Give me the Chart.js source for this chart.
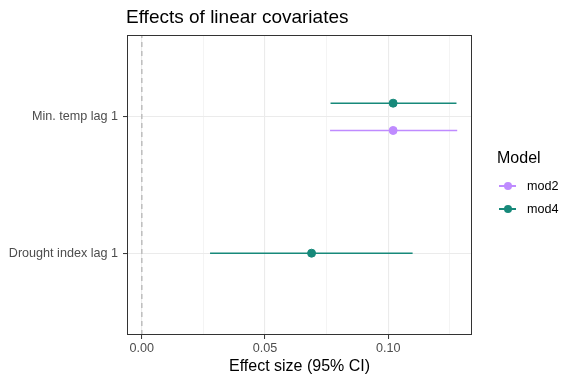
<!DOCTYPE html>
<html>
<head>
<meta charset="utf-8">
<script src="https://cdn.jsdelivr.net/npm/chart.js@4"></script>
<style>
  body { margin: 0; background: #fff; font-family: "Liberation Sans", Arial, sans-serif; }
  #wrap { position: relative; width: 576px; height: 384px; }
  #title { position: absolute; left: 126px; top: 6px; font-size: 19px; line-height: 22px; color: #000; }
  #legend { position: absolute; left: 497px; top: 148px; }
  #legend .head { font-size: 16px; line-height: 20px; color: #000; margin-bottom: 10px; }
  #legend .item { position: relative; height: 23px; font-size: 12.6px; line-height: 16px; color: #000; }
  #legend .key-line { position: absolute; left: 2px; top: 7px; width: 17px; height: 1.5px; }
  #legend .key-dot { position: absolute; left: 6.5px; top: 3.7px; width: 8px; height: 8px; border-radius: 50%; }
  #legend .lab { position: absolute; left: 30px; top: 0; }
</style>
</head>
<body>
<div id="wrap">
  <canvas id="chart" width="576" height="384"></canvas>
  <div id="title">Effects of linear covariates</div>
  <div id="legend"></div>
</div>
<script>
// Data
const terms = ['Drought index lag 1', 'Min. temp lag 1'];
const models = ['mod2', 'mod4'];
const modelColors = ['#BF8BFF', '#17897A'];

const mod2Est = [null, 0.102];
const mod2Low = [null, 0.0764];
const mod2High = [null, 0.128];

const mod4Est = [0.0689, 0.102];
const mod4Low = [0.0277, 0.0766];
const mod4High = [0.1099, 0.1277];

const xMajorTicks = [0, 0.05, 0.10];
const xMinorTicks = [0.025, 0.075, 0.125];
const xTickLabels = ['0.00', '0.05', '0.10'];

const estimates = [mod2Est, mod4Est];
const lows = [mod2Low, mod4Low];
const highs = [mod2High, mod4High];

// dodge models around each term (ggplot position_dodge)
const dodge = 0.2;
function yPos(termIdx, modelIdx) {
  const present = models.map((m, i) => i).filter(i => estimates[i][termIdx] != null);
  if (present.length < 2) return termIdx + 1;
  const k = present.indexOf(modelIdx);
  return termIdx + 1 - dodge / 2 + k * dodge / (present.length - 1);
}

const datasets = [];

// zero reference line
datasets.push({
  data: [{ x: 0, y: 0.4 }, { x: 0, y: 2.6 }],
  showLine: true,
  borderColor: '#BDBDBD',
  borderWidth: 1.5,
  borderDash: [5, 4],
  pointRadius: 0
});

// whiskers
models.forEach((m, mi) => {
  terms.forEach((t, ti) => {
    if (estimates[mi][ti] == null) return;
    const y = yPos(ti, mi);
    datasets.push({
      data: [{ x: lows[mi][ti], y: y }, { x: highs[mi][ti], y: y }],
      showLine: true,
      borderColor: modelColors[mi],
      borderWidth: 1.5,
      pointRadius: 0
    });
  });
});

// points
models.forEach((m, mi) => {
  const pts = [];
  terms.forEach((t, ti) => {
    if (estimates[mi][ti] == null) return;
    pts.push({ x: estimates[mi][ti], y: yPos(ti, mi) });
  });
  datasets.push({
    label: m,
    data: pts,
    backgroundColor: modelColors[mi],
    borderColor: modelColors[mi],
    pointRadius: 4,
    pointHoverRadius: 4
  });
});

// Panel border like theme_bw
const panelBorder = {
  id: 'panelBorder',
  afterDraw(chart) {
    const { ctx, chartArea: a } = chart;
    ctx.save();
    ctx.strokeStyle = '#333333';
    ctx.lineWidth = 1;
    ctx.strokeRect(a.left + 0.5, a.top + 0.5, a.right - a.left - 1, a.bottom - a.top - 1);
    ctx.restore();
  }
};

Chart.defaults.font.family = '"Liberation Sans", Arial, sans-serif';

new Chart(document.getElementById('chart'), {
  type: 'scatter',
  data: { datasets: datasets },
  options: {
    responsive: false,
    animation: false,
    layout: { padding: { top: 35, right: 104, bottom: 8, left: 0 } },
    plugins: {
      legend: { display: false },
      tooltip: { enabled: false }
    },
    scales: {
      x: {
        min: -0.006,
        max: 0.134,
        afterBuildTicks: scale => {
          scale.ticks = xMajorTicks.concat(xMinorTicks).sort((a, b) => a - b).map(v => ({ value: v }));
        },
        afterFit: scale => { scale.height = 41; },
        ticks: {
          autoSkip: false,
          maxRotation: 0,
          padding: 2,
          color: '#4D4D4D',
          font: { size: 12.6 },
          callback: value => {
            const i = xMajorTicks.findIndex(v => Math.abs(v - value) < 1e-9);
            return i >= 0 ? xTickLabels[i] : '';
          }
        },
        grid: {
          color: '#EBEBEB',
          lineWidth: ctx => xMajorTicks.some(v => Math.abs(v - ctx.tick.value) < 1e-9) ? 1.1 : 0.55,
          tickLength: 4,
          tickColor: ctx => xMajorTicks.some(v => Math.abs(v - ctx.tick.value) < 1e-9) ? '#333333' : 'rgba(0,0,0,0)',
          tickWidth: 1
        },
        border: { display: false },
        title: {
          display: true,
          text: 'Effect size (95% CI)',
          color: '#000',
          font: { size: 16 },
          padding: { top: 0, bottom: 0 }
        }
      },
      y: {
        min: 0.4,
        max: 2.6,
        afterBuildTicks: scale => {
          scale.ticks = terms.map((t, i) => ({ value: i + 1 }));
        },
        afterFit: scale => { scale.width = 127; },
        ticks: {
          autoSkip: false,
          padding: 5,
          color: '#4D4D4D',
          font: { size: 12.6 },
          callback: value => terms[value - 1]
        },
        grid: {
          color: '#EBEBEB',
          lineWidth: 1.1,
          tickLength: 4,
          tickColor: '#333333',
          tickWidth: 1
        },
        border: { display: false }
      }
    }
  },
  plugins: [panelBorder]
});

// HTML legend
const legendEl = document.getElementById('legend');
legendEl.innerHTML = '<div class="head">Model</div>' + models.map((m, i) =>
  `<div class="item"><div class="key-line" style="background:${modelColors[i]}"></div>` +
  `<div class="key-dot" style="background:${modelColors[i]}"></div><div class="lab">${m}</div></div>`
).join('');
</script>
</body>
</html>
